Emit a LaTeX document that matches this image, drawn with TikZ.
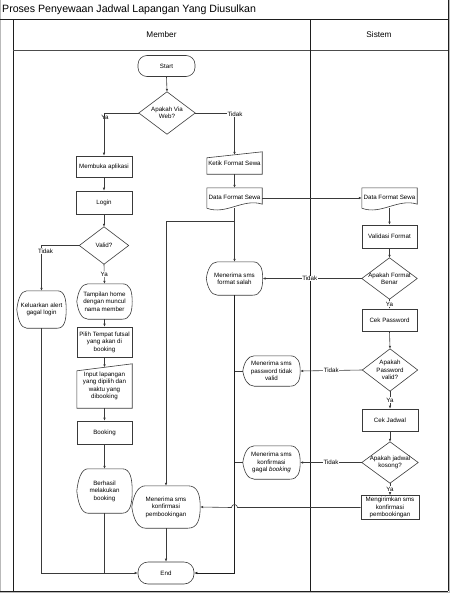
\documentclass[tikz,border=0pt]{standalone}
\usepackage{fontspec}
\setmainfont{Liberation Sans}
\usetikzlibrary{arrows.meta,calc}
\definecolor{ln}{HTML}{3A3A3A}
\definecolor{fr}{HTML}{1E1E1E}
\tikzset{
 base/.style={inner sep=0pt, align=center, font=\fontsize{6.2}{7.4}\selectfont},
 sz/.style 2 args={minimum width=#1pt, minimum height=#2pt},
 proc/.style={base, draw=ln, line width=0.6pt},
 term/.style={base, draw=ln, line width=0.6pt, rounded corners=9pt},
 ghost/.style={base},
 shp/.style={draw=ln, line width=0.6pt},
 conn/.style={draw=ln, line width=0.6pt, -{Latex[length=3pt,width=2.6pt]}},
 darkconn/.style={draw=fr, line width=0.8pt, -{Latex[length=3pt,width=2.6pt]}},
 plain/.style={draw=ln, line width=0.6pt},
 lbl/.style={font=\fontsize{6.2}{7.4}\selectfont, inner sep=0.6pt, fill=white},
 frameline/.style={draw=fr, line width=0.8pt},
}
\newcommand\dispshp[1]{\draw[shp] let \p1=(#1.north west), \p2=(#1.south east), \n1={\x2-\x1}, \n2={(\y1+\y2)/2}, \n3={\y1-\y2} in
 ({\x1+0.2*\n1},\y1) -- ({\x1+0.82*\n1},\y1) .. controls ({\x1+0.96*\n1},\y1) and (\x2,{\n2+0.3*\n3}) .. (\x2,\n2) .. controls (\x2,{\n2-0.3*\n3}) and ({\x1+0.96*\n1},\y2) .. ({\x1+0.82*\n1},\y2) -- ({\x1+0.2*\n1},\y2) .. controls ({\x1+0.08*\n1},\y2) and ({\x1+0.02*\n1},{\n2-0.25*\n3}) .. (\x1,\n2) .. controls ({\x1+0.02*\n1},{\n2+0.25*\n3}) and ({\x1+0.08*\n1},\y1) .. ({\x1+0.2*\n1},\y1) -- cycle;}
\newcommand\docshp[1]{\draw[shp] let \p1=(#1.north west), \p2=(#1.south east), \n1={\x2-\x1}, \n2={\y1-\y2} in
 (\x1,\y1) -- (\x2,\y1) -- (\x2,{\y2+0.2*\n2}) .. controls ({\x1+0.65*\n1},{\y2+0.5*\n2}) and ({\x1+0.35*\n1},{\y2-0.35*\n2}) .. (\x1,\y2) -- cycle;}
\newcommand\manshp[2]{\draw[shp] let \p1=(#1.north west), \p2=(#1.south east) in (\x1,{\y1-#2pt}) -- (\x2,\y1) -- (\x2,\y2) -- (\x1,\y2) -- cycle;}
\newcommand\diashp[1]{\draw[shp] (#1.north) -- (#1.east) -- (#1.south) -- (#1.west) -- cycle;}

\begin{document}
\begin{tikzpicture}[x=1pt,y=-1pt]
\useasboundingbox (0,0) rectangle (450,597);

% frame
\draw[draw=gray!55, line width=0.8pt] (0.4,0) -- (0.4,591);
\draw[draw=gray!55, line width=0.8pt] (449.5,0) -- (449.5,592.5) -- (0,592.5);
\draw[frameline] (0,19.5) -- (448,19.5);
\draw[frameline] (13,19.5) -- (13,591);
\draw[draw=gray!60!black, line width=0.6pt] (13,50) -- (448,50);
\draw[frameline] (310,19.5) -- (310,591);
\draw[frameline] (448,0) -- (448,591);
\draw[frameline] (0,591) -- (448,591);

\node[anchor=west, font=\fontsize{10.6}{12}\selectfont, inner sep=0pt] (title) at (2,10) {Proses Penyewaan Jadwal Lapangan Yang Diusulkan};
\node[font=\fontsize{8.2}{10}\selectfont, inner sep=0pt] (member) at (161.5,34.5) {Member};
\node[font=\fontsize{8.2}{10}\selectfont, inner sep=0pt] (sistem) at (379,34.5) {Sistem};

% member lane
\node[term, sz={57}{21}] (start) at (166.5,66) {Start};
\node[ghost, sz={56}{42}] (web) at (167,113) {Apakah Via\\Web?};
\node[proc, sz={56}{21}] (memb) at (104,166.5) {Membuka aplikasi};
\node[proc, sz={56}{23}] (login) at (104,202.5) {Login};
\node[ghost, sz={49}{37}] (valid) at (104,245.5) {Valid?};
\node[ghost, sz={49}{37}] (keluar) at (41.5,309.5) {Keluarkan alert\\gagal login};
\node[ghost, sz={55}{35}] (tamp) at (104.5,301.5) {Tampilan home\\dengan muncul\\nama member};
\node[proc, sz={55}{30}] (pilih) at (104.5,342) {Pilih Tempat futsal\\yang akan di\\booking};
\node[ghost, sz={55}{44}] (input) at (104.5,386) {Input lapangan\\yang dipilih dan\\waktu yang\\dibooking};
\node[proc, sz={55}{23}] (booking) at (104.5,432.5) {Booking};
\node[ghost, sz={55}{44}] (berhasil) at (104.5,491) {Berhasil\\melakukan\\booking};
\node[ghost, sz={68}{42}] (konf) at (166,507) {Menerima sms\\konfirmasi\\pembookingan};
\node[term, sz={56}{22}, rounded corners=10pt] (end) at (166,573) {End};
\node[ghost, sz={55}{22}] (ketik) at (234.5,163) {\raisebox{-2pt}{Ketik Format Sewa}};
\node[ghost, sz={55}{20}] (dfs1) at (234.5,198) {\raisebox{1.5pt}{Data Format Sewa}};
\node[ghost, sz={56}{33}] (salah) at (234.5,278.5) {Menerima sms\\format salah};
\node[ghost, sz={57}{30}] (pwd) at (271.5,371) {Menerima sms\\password tidak\\valid};
\node[ghost, sz={57}{33}] (gagal) at (271.5,462.5) {Menerima sms\\konfirmasi\\gagal \emph{booking}};

% sistem lane
\node[ghost, sz={55}{20}] (dfs2) at (389.5,198) {\raisebox{1.5pt}{Data Format Sewa}};
\node[proc, sz={55}{23}] (validasi) at (389.5,236.5) {Validasi Format};
\node[ghost, sz={55}{41}] (fmt) at (389.5,278.5) {Apakah Format\\Benar};
\node[proc, sz={55}{22}] (cekpw) at (389.5,320) {Cek Password};
\node[ghost, sz={55}{42}] (pwv) at (390,370) {Apakah\\Password\\valid?};
\node[proc, sz={56}{22}] (cekj) at (390,420) {Cek Jadwal};
\node[ghost, sz={56}{41}] (kosong) at (390,462.5) {Apakah jadwal\\kosong?};
\node[proc, sz={58}{24}] (kirim) at (390,507.5) {Mengirimkan sms\\konfirmasi\\pembookingan};

% shapes
\foreach \s in {web,valid,fmt,pwv,kosong} {\diashp{\s}}
\foreach \s in {keluar,tamp,berhasil,konf,salah,pwd,gagal} {\dispshp{\s}}
\foreach \s in {dfs1,dfs2} {\docshp{\s}}
\manshp{ketik}{6}
\manshp{input}{7}

% connectors member lane
\draw[conn] (start.south) -- (web.north);
\draw[conn] (web.west) -| (memb.north);
\node[base] (yaweb) at (105,117.5) {Ya};
\draw[conn] (web.east) -| ($(ketik.north)+(0,3)$);
\node[lbl] (tidakweb) at (235,114.5) {Tidak};
\draw[conn] (memb.south) -- (login.north);
\draw[conn] (login.south) -- (valid.north);
\draw[conn] (valid.west) -| (keluar.north);
\node[lbl] (tidakvalid) at (45.5,251) {Tidak};
\draw[conn] (valid.south) -- node[lbl] {Ya} (tamp.north);
\draw[conn] (tamp.south) -- (pilih.north);
\draw[conn] (pilih.south) -- ($(input.north)+(0,3.5)$);
\draw[conn] (input.south) -- (booking.north);
\draw[conn] (booking.south) -- (berhasil.north);
\draw[conn] (keluar.south) |- (end.west);
\draw[plain] (berhasil.south) -- (berhasil.south |- end.west);
\draw[conn] (ketik.south) -- (dfs1.north);
\draw[conn] (dfs1.east) -- (dfs2.west);
\coordinate (br) at (234.5,221);
\draw[conn] (dfs1.south) -- (salah.north);
\draw[conn] (br) -| (konf.north);
\draw[conn] (konf.south) -- (end.north);
\draw[darkconn] (salah.south) |- (end.east);
\draw[plain] (pwd.west) -- (pwd.west -| salah.south);
\draw[plain] (gagal.west) -- (gagal.west -| salah.south);

% connectors sistem lane
\draw[conn] (dfs2.south) -- (validasi.north);
\draw[conn] (validasi.south) -- (fmt.north);
\draw[conn] (fmt.west) -- node[lbl, pos=0.525] {Tidak} (salah.east);
\draw[conn] (fmt.south) -- node[lbl] {Ya} (cekpw.north);
\draw[conn] (cekpw.south) -- (pwv.north);
\draw[conn] (pwv.west) -- node[lbl] {Tidak} (pwd.east);
\draw[conn] (pwv.south) -- node[lbl] {Ya} (cekj.north);
\draw[conn] (cekj.south) -- (kosong.north);
\draw[conn] (kosong.west) -- node[lbl] {Tidak} (gagal.east);
\draw[conn] (kosong.south) -- node[lbl] {Ya} (kirim.north);
\draw[conn] (kirim.west) -- ($(kirim.west -| salah.south)+(3,0)$) arc[start angle=0, end angle=180, radius=3pt] -- (konf.east);
\end{tikzpicture}
\end{document}
